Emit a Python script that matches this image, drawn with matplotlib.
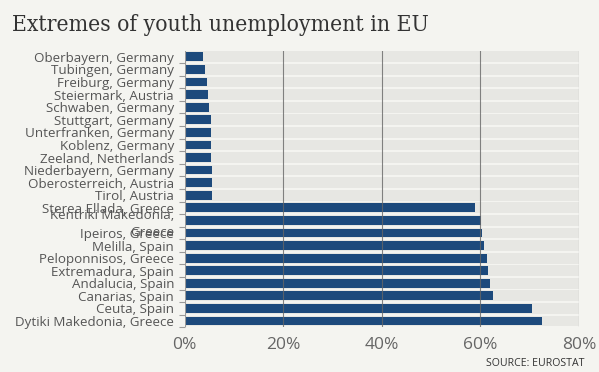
import matplotlib
matplotlib.use("Agg")
import matplotlib.pyplot as plt
import numpy as np

regions = ["Oberbayern, Germany", "Tubingen, Germany", "Freiburg, Germany",
           "Steiermark, Austria", "Schwaben, Germany", "Stuttgart, Germany",
           "Unterfranken, Germany", "Koblenz, Germany", "Zeeland, Netherlands",
           "Niederbayern, Germany", "Oberosterreich, Austria", "Tirol, Austria",
           "Sterea Ellada, Greece", "Kentriki Makedonia,\nGreece", "Ipeiros, Greece",
           "Melilla, Spain", "Peloponnisos, Greece", "Extremadura, Spain",
           "Andalucia, Spain", "Canarias, Spain", "Ceuta, Spain",
           "Dytiki Makedonia, Greece"]
rates = [3.7, 4.2, 4.5, 4.8, 5.0, 5.3, 5.3, 5.3, 5.3, 5.6, 5.6, 5.6,
         58.9, 60.2, 60.4, 60.7, 61.3, 61.5, 62.0, 62.5, 70.5, 72.4]
xticks = [0, 20, 40, 60, 80]
xticklabels = ["0%", "20%", "40%", "60%", "80%"]

BG = "#f4f4f0"
BAND = "#e7e7e3"
BAR = "#1d4a7c"

fig = plt.figure(figsize=(5.99, 3.72), dpi=100, facecolor=BG)
ax = fig.add_axes([184.5/599, 1-327.3/372, (579-184.5)/599, (327.3-50.6)/372])
ax.set_facecolor(BG)

y = np.arange(len(regions))
ax.barh(y, [80]*len(regions), height=0.86, color=BAND, zorder=1)
ax.barh(y, rates, height=0.70, color=BAR, zorder=2)

for xv in xticks[1:]:
    ax.axvline(xv, color="#666666", lw=0.8, alpha=0.8, zorder=3)
ax.axvline(0, color="#999999", lw=0.8, zorder=3)

ax.set_xlim(0, 80)
ax.set_ylim(len(regions) - 0.5, -0.5)
ax.set_xticks(xticks)
ax.set_xticklabels(xticklabels, fontsize=12.5, color="#666666", family="Open Sans")
ax.tick_params(axis="x", length=0, pad=7)
ax.set_yticks(y)
ax.set_yticklabels(regions, fontsize=9.6, color="#555555", family="Open Sans",
                   linespacing=1.4)
ax.tick_params(axis="y", which="major", length=0, pad=7.5)
ax.set_yticks(y + 0.5, minor=True)
ax.tick_params(axis="y", which="minor", length=4.5, color="#999999", width=0.8)
for s in ax.spines.values():
    s.set_visible(False)

fig.text(12/599, 1-31/372, "Extremes of youth unemployment in EU",
         fontsize=16.4, family="DejaVu Serif", stretch="condensed",
         color="#333333", ha="left", va="baseline")
fig.text(585/599, 1-366/372, "SOURCE: EUROSTAT", fontsize=7.6, family="Open Sans",
         color="#333333", ha="right", va="baseline")

fig.savefig("out.png", dpi=100, facecolor=BG)
